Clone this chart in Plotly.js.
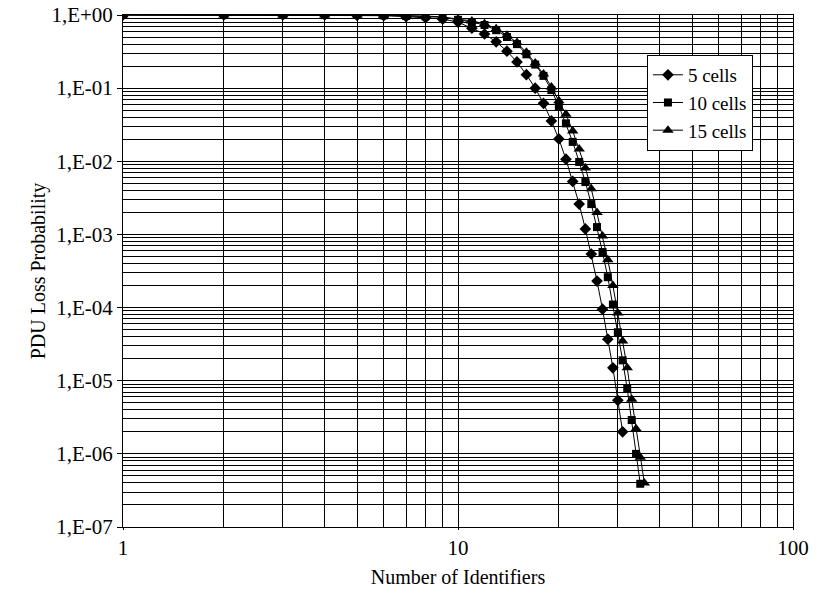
<!DOCTYPE html>
<html>
<head>
<meta charset="utf-8">
<script src="https://cdn.plot.ly/plotly-3.0.1.min.js"></script>
<style>html,body{margin:0;padding:0;background:#fff;}#chart{width:816px;height:594px;}</style>
</head>
<body>
<div id="chart"></div>
<script>
// Number of identifiers
const ids5  = [1,2,3,4,5,6,7,8,9,10,11,12,13,14,15,16,17,18,19,20,21,22,23,24,25,26,27,28,29,30,31];
const ids10 = [1,2,3,4,5,6,7,8,9,10,11,12,13,14,15,16,17,18,19,20,21,22,23,24,25,26,27,28,29,30,31,32,33,34,35];
const ids15 = [1,2,3,4,5,6,7,8,9,10,11,12,13,14,15,16,17,18,19,20,21,22,23,24,25,26,27,28,29,30,31,32,33,34,35,36];

// PDU loss probability
const loss5 = [1,1,1,1,0.99,0.98,0.95,0.92,0.88,0.80,0.66,0.55,0.43,0.32,0.228,0.153,0.100,0.062,0.0356,0.0202,0.0107,5.3e-3,2.6e-3,1.19e-3,5.4e-4,2.3e-4,9.5e-5,3.7e-5,1.5e-5,5.4e-6,2.0e-6];
const loss10 = [1,1,1,1,1,0.99,0.97,0.96,0.93,0.86,0.80,0.73,0.62,0.50,0.40,0.29,0.21,0.147,0.094,0.057,0.033,0.0184,9.8e-3,5.2e-3,2.6e-3,1.26e-3,5.75e-4,2.6e-4,1.1e-4,4.6e-5,1.9e-5,7.7e-6,2.9e-6,1.0e-6,3.9e-7];
const loss15 = [1,1,1,1,1,0.99,0.98,0.97,0.94,0.88,0.83,0.76,0.65,0.53,0.42,0.31,0.22,0.156,0.104,0.067,0.044,0.026,0.0147,8.1e-3,4.2e-3,2.0e-3,9.5e-4,4.5e-4,2.0e-4,8.4e-5,3.5e-5,1.5e-5,5.6e-6,2.2e-6,9.0e-7,4.0e-7];

const seriesNames = ["5 cells","10 cells","15 cells"];

// Tick labels
const xTickVals = [1,10,100];
const xTickText = ["1","10","100"];
const yTickVals = [1e-7,1e-6,1e-5,1e-4,1e-3,1e-2,1e-1,1];
const yTickText = ["1,E-07","1,E-06","1,E-05","1,E-04","1,E-03","1,E-02","1,E-01","1,E+00"];

function minorVals(majors){
  const out=[];
  for(let i=0;i<majors.length-1;i++){ for(let k=2;k<=9;k++) out.push(majors[i]*k); }
  return out;
}

const fam = "Liberation Serif, Times New Roman, serif";
const font = {family:fam, size:20, color:"#000"};
const tickFont = {family:fam, size:21, color:"#000"};
const mk = (sym,size)=>({symbol:sym,size:size,color:"#000",line:{width:0}});

const traces = [
  {x:ids5, y:loss5, name:seriesNames[0], mode:"lines+markers", line:{color:"#000",width:1}, marker:mk("diamond",9)},
  {x:ids10,y:loss10,name:seriesNames[1], mode:"lines+markers", line:{color:"#000",width:1}, marker:mk("square",8)},
  {x:ids15,y:loss15,name:seriesNames[2], mode:"lines+markers", line:{color:"#000",width:1}, marker:mk("triangle-up",10)}
];

const layout = {
  width:816, height:594,
  margin:{l:123,r:23,t:15,b:67},
  paper_bgcolor:"#fff", plot_bgcolor:"#fff",
  font:font,
  showlegend:true,
  legend:{x:0.782,y:0.922,xanchor:"left",yanchor:"top",bgcolor:"#fff",bordercolor:"#000",borderwidth:1,
          font:{family:fam,size:19,color:"#000"},tracegroupgap:0,itemwidth:30},
  xaxis:{type:"log",range:[0,2],tickmode:"array",tickvals:xTickVals,ticktext:xTickText,
         showgrid:true,gridcolor:"#000",gridwidth:1,
         minor:{tickmode:"array",tickvals:minorVals(xTickVals),showgrid:true,gridcolor:"#000",gridwidth:1,ticks:""},
         ticks:"outside",ticklen:2,tickcolor:"#000",showline:true,linecolor:"#000",linewidth:1,mirror:true,
         zeroline:false,tickfont:tickFont,
         title:{text:"Number of Identifiers",font:font,standoff:10}},
  yaxis:{type:"log",range:[-7,0],tickmode:"array",tickvals:yTickVals,ticktext:yTickText,
         ticksuffix:"\u00a0\u00a0",
         showgrid:true,gridcolor:"#000",gridwidth:1,
         minor:{tickmode:"array",tickvals:minorVals(yTickVals),showgrid:true,gridcolor:"#000",gridwidth:1,ticks:""},
         ticks:"outside",ticklen:5,tickcolor:"#000",showline:true,linecolor:"#000",linewidth:1,mirror:true,
         zeroline:false,tickfont:tickFont,
         title:{text:"PDU Loss Probability",font:font,standoff:0}}
};

Plotly.newPlot("chart",traces,layout,{displayModeBar:false,staticPlot:true});
</script>
</body>
</html>
